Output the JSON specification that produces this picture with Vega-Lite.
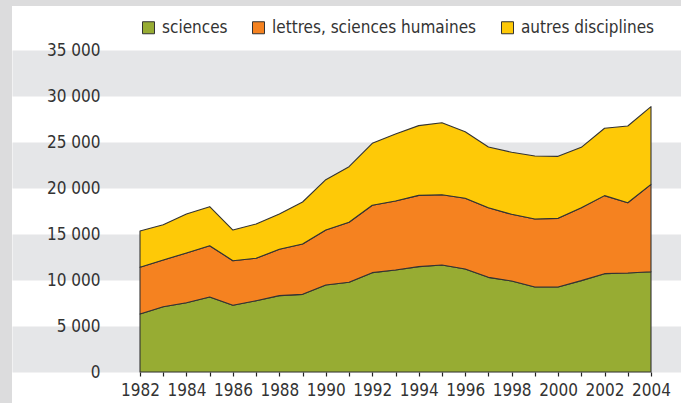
{
  "$schema": "https://vega.github.io/schema/vega-lite/v6.json",
  "width": 669,
  "height": 397,
  "autosize": {"type": "none"},
  "padding": {"left": 12, "top": 6, "right": 0, "bottom": 0},
  "background": "#dcdcdd",
  "view": {"fill": "#ffffff", "stroke": null},
  "config": {
    "font": "DejaVu Sans Condensed, DejaVu Sans, sans-serif",
    "axis": {"labelFont": "DejaVu Sans Condensed, DejaVu Sans, sans-serif", "labelColor": "#333333"},
    "legend": {"labelFont": "DejaVu Sans Condensed, DejaVu Sans, sans-serif", "labelColor": "#333333"}
  },
  "data": {
    "values": [
      {"annee": 1982, "discipline": "sciences", "valeur": 6300},
      {"annee": 1983, "discipline": "sciences", "valeur": 7100},
      {"annee": 1984, "discipline": "sciences", "valeur": 7530},
      {"annee": 1985, "discipline": "sciences", "valeur": 8150},
      {"annee": 1986, "discipline": "sciences", "valeur": 7250},
      {"annee": 1987, "discipline": "sciences", "valeur": 7750},
      {"annee": 1988, "discipline": "sciences", "valeur": 8300},
      {"annee": 1989, "discipline": "sciences", "valeur": 8440},
      {"annee": 1990, "discipline": "sciences", "valeur": 9460},
      {"annee": 1991, "discipline": "sciences", "valeur": 9750},
      {"annee": 1992, "discipline": "sciences", "valeur": 10800},
      {"annee": 1993, "discipline": "sciences", "valeur": 11090},
      {"annee": 1994, "discipline": "sciences", "valeur": 11450},
      {"annee": 1995, "discipline": "sciences", "valeur": 11630},
      {"annee": 1996, "discipline": "sciences", "valeur": 11200},
      {"annee": 1997, "discipline": "sciences", "valeur": 10290},
      {"annee": 1998, "discipline": "sciences", "valeur": 9890},
      {"annee": 1999, "discipline": "sciences", "valeur": 9240},
      {"annee": 2000, "discipline": "sciences", "valeur": 9240},
      {"annee": 2001, "discipline": "sciences", "valeur": 9930},
      {"annee": 2002, "discipline": "sciences", "valeur": 10690},
      {"annee": 2003, "discipline": "sciences", "valeur": 10760},
      {"annee": 2004, "discipline": "sciences", "valeur": 10900},
      {"annee": 1982, "discipline": "lettres, sciences humaines", "valeur": 5080},
      {"annee": 1983, "discipline": "lettres, sciences humaines", "valeur": 5070},
      {"annee": 1984, "discipline": "lettres, sciences humaines", "valeur": 5410},
      {"annee": 1985, "discipline": "lettres, sciences humaines", "valeur": 5580},
      {"annee": 1986, "discipline": "lettres, sciences humaines", "valeur": 4850},
      {"annee": 1987, "discipline": "lettres, sciences humaines", "valeur": 4610},
      {"annee": 1988, "discipline": "lettres, sciences humaines", "valeur": 5040},
      {"annee": 1989, "discipline": "lettres, sciences humaines", "valeur": 5470},
      {"annee": 1990, "discipline": "lettres, sciences humaines", "valeur": 5970},
      {"annee": 1991, "discipline": "lettres, sciences humaines", "valeur": 6520},
      {"annee": 1992, "discipline": "lettres, sciences humaines", "valeur": 7320},
      {"annee": 1993, "discipline": "lettres, sciences humaines", "valeur": 7500},
      {"annee": 1994, "discipline": "lettres, sciences humaines", "valeur": 7750},
      {"annee": 1995, "discipline": "lettres, sciences humaines", "valeur": 7640},
      {"annee": 1996, "discipline": "lettres, sciences humaines", "valeur": 7680},
      {"annee": 1997, "discipline": "lettres, sciences humaines", "valeur": 7570},
      {"annee": 1998, "discipline": "lettres, sciences humaines", "valeur": 7250},
      {"annee": 1999, "discipline": "lettres, sciences humaines", "valeur": 7390},
      {"annee": 2000, "discipline": "lettres, sciences humaines", "valeur": 7460},
      {"annee": 2001, "discipline": "lettres, sciences humaines", "valeur": 7930},
      {"annee": 2002, "discipline": "lettres, sciences humaines", "valeur": 8480},
      {"annee": 2003, "discipline": "lettres, sciences humaines", "valeur": 7640},
      {"annee": 2004, "discipline": "lettres, sciences humaines", "valeur": 9500},
      {"annee": 1982, "discipline": "autres disciplines", "valeur": 3950},
      {"annee": 1983, "discipline": "autres disciplines", "valeur": 3840},
      {"annee": 1984, "discipline": "autres disciplines", "valeur": 4230},
      {"annee": 1985, "discipline": "autres disciplines", "valeur": 4240},
      {"annee": 1986, "discipline": "autres disciplines", "valeur": 3330},
      {"annee": 1987, "discipline": "autres disciplines", "valeur": 3730},
      {"annee": 1988, "discipline": "autres disciplines", "valeur": 3830},
      {"annee": 1989, "discipline": "autres disciplines", "valeur": 4570},
      {"annee": 1990, "discipline": "autres disciplines", "valeur": 5470},
      {"annee": 1991, "discipline": "autres disciplines", "valeur": 6050},
      {"annee": 1992, "discipline": "autres disciplines", "valeur": 6740},
      {"annee": 1993, "discipline": "autres disciplines", "valeur": 7280},
      {"annee": 1994, "discipline": "autres disciplines", "valeur": 7580},
      {"annee": 1995, "discipline": "autres disciplines", "valeur": 7830},
      {"annee": 1996, "discipline": "autres disciplines", "valeur": 7240},
      {"annee": 1997, "discipline": "autres disciplines", "valeur": 6600},
      {"annee": 1998, "discipline": "autres disciplines", "valeur": 6740},
      {"annee": 1999, "discipline": "autres disciplines", "valeur": 6850},
      {"annee": 2000, "discipline": "autres disciplines", "valeur": 6740},
      {"annee": 2001, "discipline": "autres disciplines", "valeur": 6560},
      {"annee": 2002, "discipline": "autres disciplines", "valeur": 7320},
      {"annee": 2003, "discipline": "autres disciplines", "valeur": 8340},
      {"annee": 2004, "discipline": "autres disciplines", "valeur": 8440}
    ]
  },
  "mark": {"type": "area", "stroke": "#333333", "strokeWidth": 1.1, "strokeJoin": "round"},
  "encoding": {
    "x": {
      "field": "annee",
      "type": "quantitative",
      "scale": {"domain": [1976.4892, 2005.2916], "nice": false, "zero": false},
      "axis": {
        "orient": "bottom",
        "offset": -31,
        "title": null,
        "grid": false,
        "domain": false,
        "values": [1982,1983,1984,1985,1986,1987,1988,1989,1990,1991,1992,1993,1994,1995,1996,1997,1998,1999,2000,2001,2002,2003,2004],
        "format": "d",
        "labelExpr": "datum.value % 2 == 0 ? datum.label : ''",
        "labelOverlap": false,
        "labelFlush": false,
        "labelFontSize": 17,
        "labelPadding": 6,
        "tickColor": "#222222",
        "tickWidth": 1.2,
        "tickSize": 4
      }
    },
    "y": {
      "field": "valeur",
      "type": "quantitative",
      "stack": "zero",
      "scale": {"domain": [0, 35000], "range": [366, 44], "nice": false},
      "axis": {
        "orient": "left",
        "title": null,
        "domain": false,
        "ticks": false,
        "values": [0,2500,5000,7500,10000,12500,15000,17500,20000,22500,25000,27500,30000,32500,35000],
        "labelExpr": "datum.value % 5000 == 0 ? replace(format(datum.value, ','), ',', ' ') : ''",
        "labelOverlap": false,
        "labelFontSize": 17,
        "labelPadding": -88,
        "labelAlign": "right",
        "grid": true,
        "gridWidth": 46,
        "gridColor": {"condition": {"test": "datum.value % 10000 == 2500", "value": "#e5e6e8"}, "value": "rgba(0,0,0,0)"}
      }
    },
    "color": {
      "field": "discipline",
      "type": "nominal",
      "sort": ["sciences", "lettres, sciences humaines", "autres disciplines"],
      "scale": {
        "domain": ["sciences", "lettres, sciences humaines", "autres disciplines"],
        "range": ["#97ac33", "#f58220", "#fec907"]
      },
      "legend": {
        "orient": "none",
        "legendX": 128,
        "legendY": 13,
        "direction": "horizontal",
        "title": null,
        "symbolType": "square",
        "symbolSize": 144,
        "symbolStrokeColor": "#333333",
        "symbolStrokeWidth": 1,
        "symbolOpacity": 1,
        "labelFontSize": 17,
        "labelLimit": 0,
        "labelOffset": 5,
        "columnPadding": 22
      }
    },
    "order": {"field": "discipline", "sort": "descending"}
  }
}
